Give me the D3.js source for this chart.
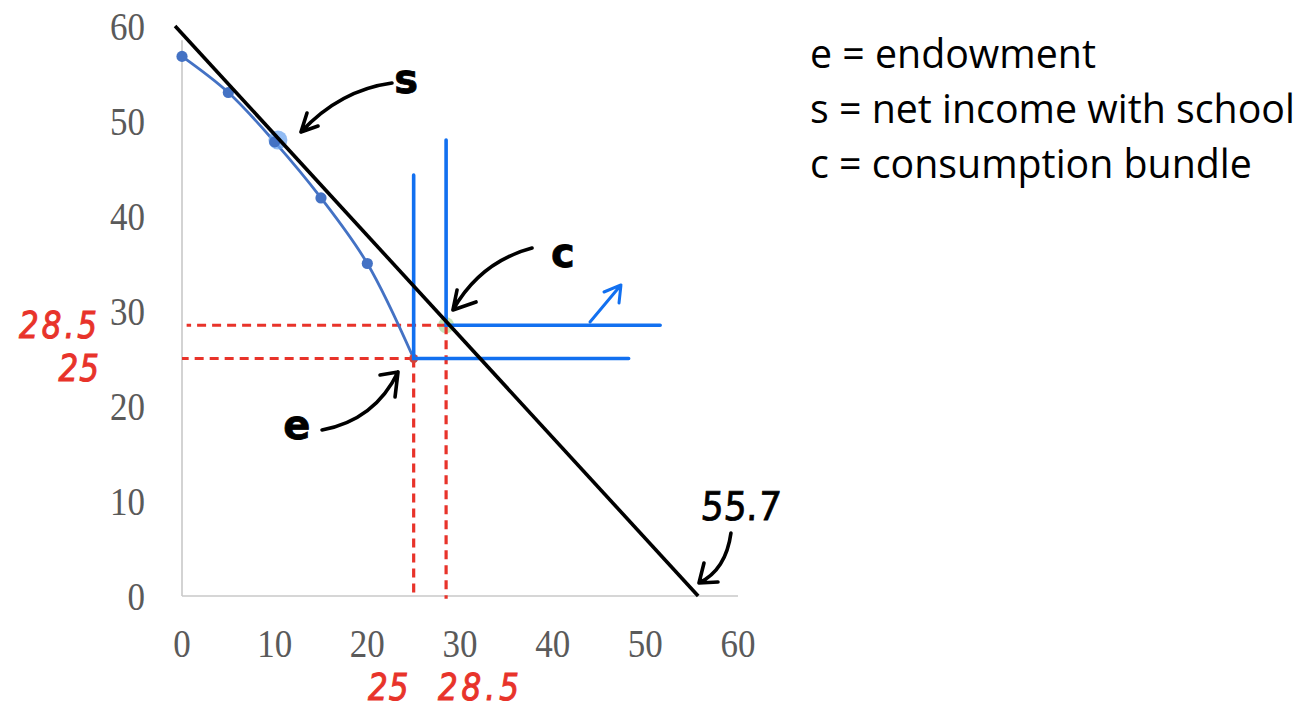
<!DOCTYPE html>
<html>
<head>
<meta charset="utf-8">
<script src="https://cdn.jsdelivr.net/npm/d3@7"></script>
<style>
  html, body { margin: 0; padding: 0; background: #fff; }
  svg { display: block; }
</style>
</head>
<body>
<svg id="chart" width="1311" height="711"></svg>
<script>
// Axis ticks
const xTicks = [0, 10, 20, 30, 40, 50, 60];
const yTicks = [0, 10, 20, 30, 40, 50, 60];

// Production possibilities (income without / with schooling years)
const ppfX = [0, 5, 10, 15, 20, 25];
const ppfY = [56.8, 53, 47.8, 41.9, 35, 25];
// Highlighted point on the frontier
const tangentPoint = [10.35, 48];

// Budget line "s": net income with school
const budgetX = [-0.75, 55.7];
const budgetY = [60, 0];

// Endowment e and consumption bundle c
const endowment = [25, 25];
const bundle = [28.5, 28.5];

// L-shaped indifference curves: corner, top of vertical arm, end of horizontal arm
const icCornerX = [25, 28.5];
const icCornerY = [25, 28.5];
const icTop = [44.3, 48];
const icRight = [48.2, 51.6];

// Handwritten value labels
const redLabels = ["28.5", "25", "25", "28.5"];
const interceptLabel = "55.7";

const legendLines = [
  "e = endowment",
  "s = net income with school",
  "c = consumption bundle"
];

const svg = d3.select("#chart");
const x = d3.scaleLinear().domain([0, 60]).range([182, 738]);
const y = d3.scaleLinear().domain([0, 60]).range([596, 26]);

const gridGrey = "#c8c8c8";
const tickGrey = "#5a5a5a";
const ppfBlue = "#4472c4";
const icBlue = "#1270f0";
const red = "#e8332a";
const ink = "#000";
const handFont = "'DejaVu Sans', sans-serif";

// Axis lines (no tick marks)
svg.append("line")
  .attr("x1", x(0)).attr("x2", x(60))
  .attr("y1", y(0)).attr("y2", y(0))
  .attr("stroke", gridGrey).attr("stroke-width", 1.6);
svg.append("line")
  .attr("x1", x(0)).attr("x2", x(0))
  .attr("y1", y(0)).attr("y2", y(58.5))
  .attr("stroke", gridGrey).attr("stroke-width", 1.6);

// Tick labels, serif, slightly tall
svg.append("g").selectAll("text").data(xTicks).join("text")
  .attr("transform", d => `translate(${x(d)},657) scale(1,1.14)`)
  .attr("text-anchor", "middle")
  .attr("font-family", "'Liberation Serif', 'Times New Roman', serif")
  .attr("font-size", 35)
  .attr("fill", tickGrey)
  .text(d => d);
svg.append("g").selectAll("text").data(yTicks).join("text")
  .attr("transform", d => `translate(145,${y(d) + 14}) scale(1,1.14)`)
  .attr("text-anchor", "end")
  .attr("font-family", "'Liberation Serif', 'Times New Roman', serif")
  .attr("font-size", 35)
  .attr("fill", tickGrey)
  .text(d => d);

// Soft green halo at the consumption bundle
svg.append("circle")
  .attr("cx", x(bundle[0])).attr("cy", y(bundle[1]))
  .attr("r", 8).attr("fill", "rgba(150,205,130,0.55)");

// Red dashed guides to the axes
const dash = "9,6";
const guides = [
  [endowment[0], endowment[1], 0, endowment[1]],
  [endowment[0], endowment[1], endowment[0], 0],
  [bundle[0], bundle[1], 0.5, bundle[1]],
  [bundle[0], bundle[1], bundle[0], -0.3]
];
svg.append("g").selectAll("line").data(guides).join("line")
  .attr("x1", d => x(d[0])).attr("y1", d => y(d[1]))
  .attr("x2", d => x(d[2])).attr("y2", d => y(d[3]))
  .attr("stroke", red).attr("stroke-width", 3.2)
  .attr("stroke-dasharray", dash);

// Production frontier
const ppfData = ppfX.map((v, i) => [v, ppfY[i]]);
svg.append("path")
  .datum(ppfData)
  .attr("d", d3.line().x(d => x(d[0])).y(d => y(d[1])).curve(d3.curveCatmullRom.alpha(0.5)))
  .attr("fill", "none").attr("stroke", ppfBlue).attr("stroke-width", 2.8);
svg.append("circle")
  .attr("cx", x(tangentPoint[0])).attr("cy", y(tangentPoint[1]))
  .attr("r", 9.5).attr("fill", "rgba(110,165,240,0.75)");
svg.append("g").selectAll("circle").data(ppfData.slice(0, -1)).join("circle")
  .attr("cx", d => x(d[0])).attr("cy", d => y(d[1]))
  .attr("r", 5.6).attr("fill", ppfBlue);
svg.append("circle")
  .attr("cx", x(endowment[0])).attr("cy", y(endowment[1]))
  .attr("r", 4.5).attr("fill", "#d2453a");

// Indifference curves
const lineGen = d3.line().x(d => x(d[0])).y(d => y(d[1]));
icCornerX.forEach((cx, i) => {
  const pts = [[cx, icTop[i]], [cx, icCornerY[i]], [icRight[i], icCornerY[i]]];
  svg.append("path")
    .attr("d", lineGen(pts))
    .attr("fill", "none").attr("stroke", icBlue)
    .attr("stroke-width", 3.6).attr("stroke-linecap", "round").attr("stroke-linejoin", "miter");
});

// Budget line
svg.append("line")
  .attr("x1", x(budgetX[0])).attr("y1", y(budgetY[0]))
  .attr("x2", x(budgetX[1])).attr("y2", y(budgetY[1]))
  .attr("stroke", ink).attr("stroke-width", 3.6);

// Hand-drawn arrows: start, control, tip, two barb ends (data units)
const arrows = [
  { c: ink,    s: [22.66, 54.0], q: [17.05, 53.26], t: [12.84, 48.84], b: [[13.49, 50.84], [14.68, 49.47]] },
  { c: ink,    s: [37.77, 36.63], q: [32.16, 35.16], t: [29.24, 30.11], b: [[29.68, 32.21], [31.73, 30.95]] },
  { c: ink,    s: [15.11, 17.47], q: [20.83, 18.53], t: [23.31, 23.58], b: [[21.37, 23.26], [22.99, 20.95]] },
  { c: ink,    s: [59.24, 6.63],  q: [58.7, 2.74],   t: [55.79, 1.37],  b: [[56.33, 3.47], [57.84, 1.47]] },
  { c: icBlue, s: [44.03, 28.84], q: [45.7, 30.8],   t: [47.37, 32.74], b: [[45.54, 32.0], [47.16, 30.84]] }
];
arrows.forEach(a => {
  const p = d3.path();
  p.moveTo(x(a.s[0]), y(a.s[1]));
  p.quadraticCurveTo(x(a.q[0]), y(a.q[1]), x(a.t[0]), y(a.t[1]));
  a.b.forEach(b => {
    p.moveTo(x(b[0]), y(b[1]));
    p.lineTo(x(a.t[0]), y(a.t[1]));
  });
  svg.append("path")
    .attr("d", p.toString())
    .attr("fill", "none").attr("stroke", a.c)
    .attr("stroke-width", a.c === ink ? 3.6 : 3)
    .attr("stroke-linecap", "round").attr("stroke-linejoin", "round");
});

// Handwritten letters
const letters = [
  { t: "s", at: [24.2, 53.0] },
  { t: "c", at: [41.1, 34.6] },
  { t: "e", at: [12.4, 16.5] }
];
svg.append("g").selectAll("text").data(letters).join("text")
  .attr("x", d => x(d.at[0])).attr("y", d => y(d.at[1]))
  .attr("text-anchor", "middle")
  .attr("font-family", handFont).attr("font-weight", "bold")
  .attr("font-size", 40)
  .attr("fill", ink).attr("stroke", ink).attr("stroke-width", 0.8)
  .text(d => d.t);

svg.append("text")
  .attr("transform", `translate(${x(55.9)},${y(8.0)}) scale(1,1.1) skewX(-5)`)
  .attr("font-family", handFont).attr("font-size", 36)
  .attr("fill", ink).attr("stroke", ink).attr("stroke-width", 0.7)
  .text(interceptLabel);

// Red handwritten values
const redPos = [
  { at: [-8.85, 27.2], anchor: "end", sp: 3 },
  { at: [-8.85, 22.6], anchor: "end", sp: 1 },
  { at: [22.3, -10.9], anchor: "middle", sp: 1 },
  { at: [32.2, -10.9], anchor: "middle", sp: 4 }
];
svg.append("g").selectAll("text").data(redLabels).join("text")
  .attr("transform", (d, i) => `translate(${x(redPos[i].at[0])},${y(redPos[i].at[1])}) scale(1,1.2)`)
  .attr("text-anchor", (d, i) => redPos[i].anchor)
  .attr("letter-spacing", (d, i) => redPos[i].sp)
  .attr("font-family", handFont).attr("font-style", "italic")
  .attr("font-size", 31)
  .attr("fill", red).attr("stroke", red).attr("stroke-width", 0.9)
  .text(d => d);

// Legend text, fitted to its column width
const legend = svg.append("g").selectAll("text").data(legendLines).join("text")
  .attr("x", 810).attr("y", (d, i) => 68 + i * 55)
  .attr("font-family", "'Open Sans', 'Noto Sans', sans-serif")
  .attr("font-size", 32)
  .attr("fill", "#000")
  .text(d => d);
const w = legend.nodes()[1].getComputedTextLength();
legend.attr("font-size", 32 * 485 / w);
</script>
</body>
</html>
